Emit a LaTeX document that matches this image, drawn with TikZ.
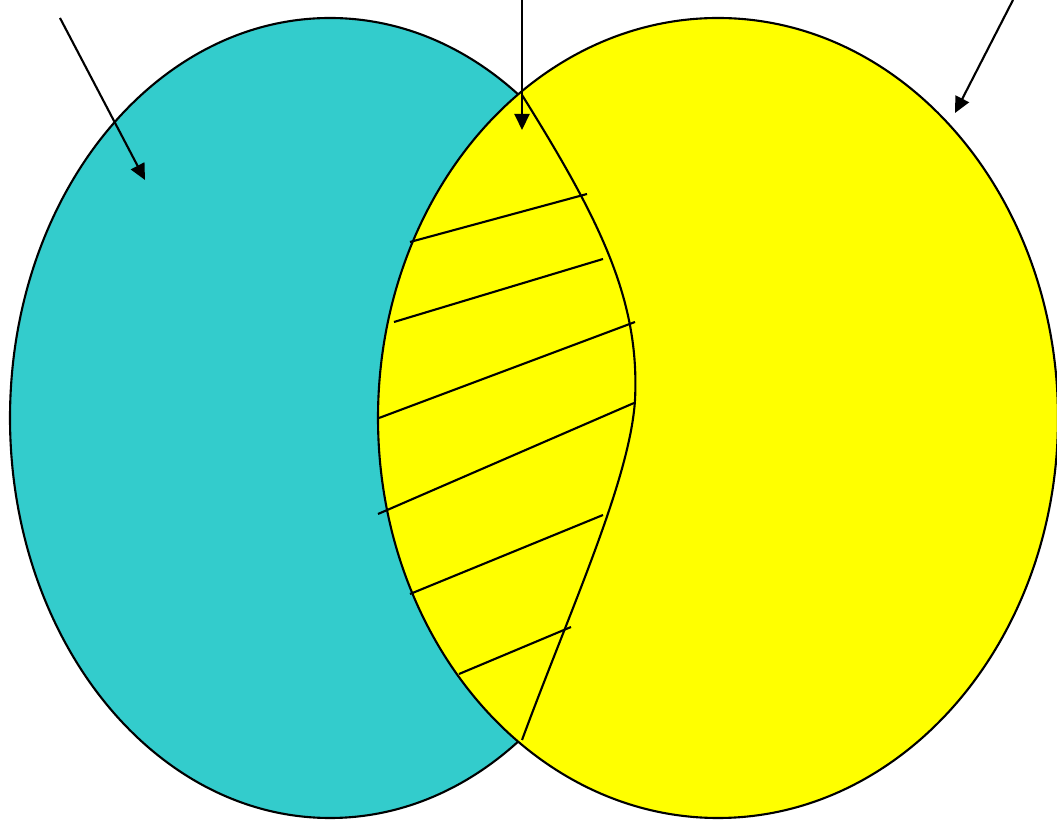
\documentclass[tikz,border=0pt]{standalone}
\usepackage{amsmath,amssymb}
\usepackage{tikz}
\usetikzlibrary{arrows.meta}

\definecolor{setteal}{RGB}{51,204,204}
\definecolor{setyellow}{RGB}{255,255,0}

\begin{document}
\begin{tikzpicture}[line width=0.6pt]
    \useasboundingbox (0,0) rectangle (10.57,8.2);
    \filldraw[fill=setteal] (3.30,4.02) ellipse (3.20 and 4.00);
    \filldraw[fill=setyellow] (7.18,4.02) ellipse (3.40 and 4.00);
    \draw (5.22,7.25) .. controls (6.00,6.00) and (6.40,5.20) .. (6.35,4.20)
          .. controls (6.30,3.40) and (5.70,2.10) .. (5.22,0.80);
    \draw (4.10,5.78) -- (5.87,6.26);
    \draw (3.94,4.98) -- (6.03,5.61);
    \draw (3.79,4.02) -- (6.35,4.98);
    \draw (3.78,3.06) -- (6.34,4.17);
    \draw (4.10,2.26) -- (6.03,3.05);
    \draw (4.59,1.46) -- (5.71,1.93);
    \coordinate (tailA) at (0.60,8.02);
    \coordinate (headA) at (1.45,6.40);
    \coordinate (tailB) at (5.22,8.20);
    \coordinate (headB) at (5.22,6.90);
    \coordinate (tailC) at (10.13,8.20);
    \coordinate (headC) at (9.55,7.07);
    \draw[-{Triangle[length=1.6mm,width=1.5mm]}] (tailA) -- (headA);
    \draw[-{Triangle[length=1.6mm,width=1.5mm]}] (tailB) -- (headB);
    \draw[-{Triangle[length=1.6mm,width=1.5mm]}] (tailC) -- (headC);
\end{tikzpicture}
\end{document}
